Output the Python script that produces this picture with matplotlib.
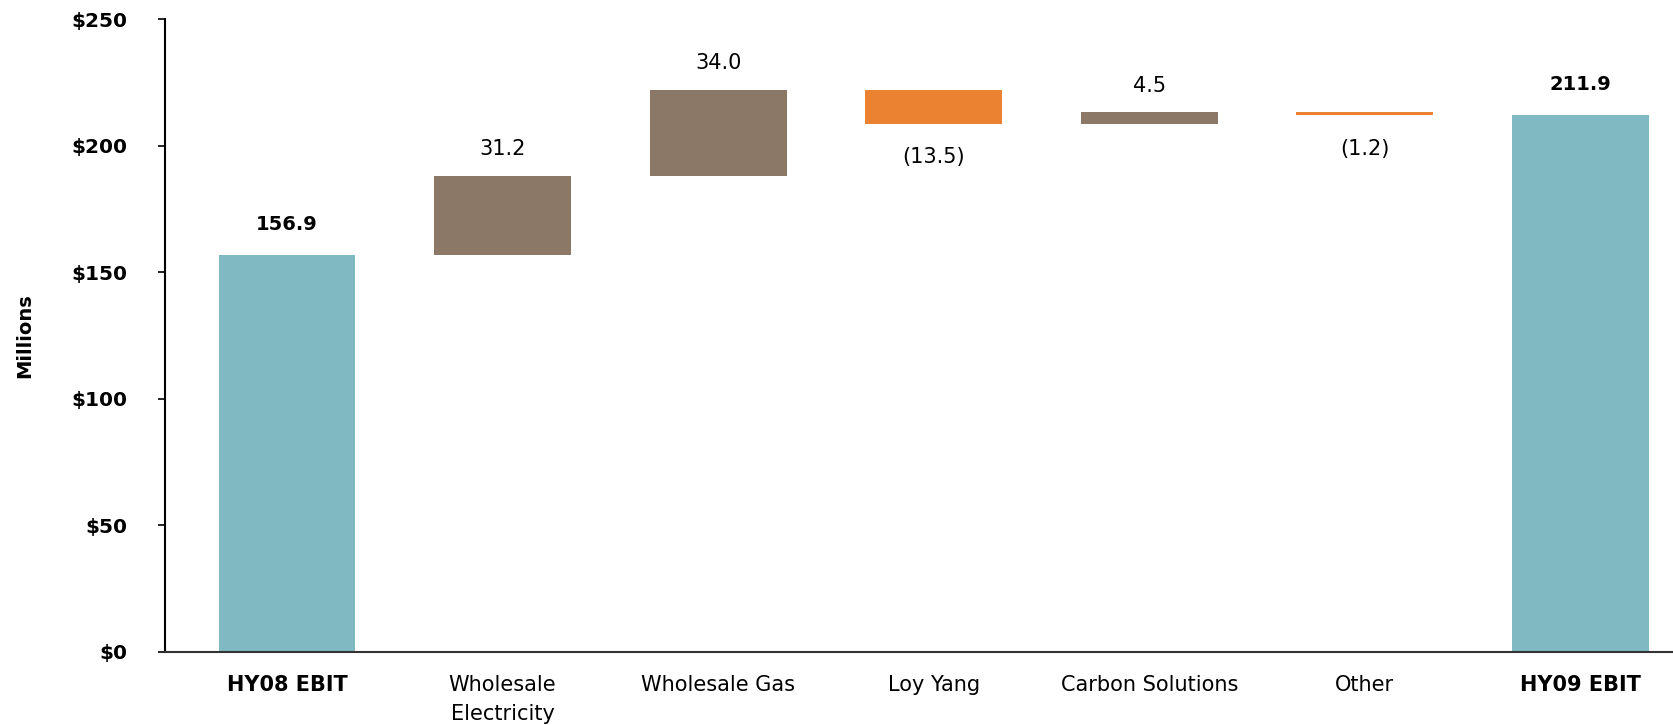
import matplotlib
matplotlib.use("Agg")
import matplotlib.pyplot as plt
import numpy as np

categories = ["HY08 EBIT", "Wholesale\nElectricity", "Wholesale Gas", "Loy Yang",
              "Carbon Solutions", "Other", "HY09 EBIT"]
changes = [156.9, 31.2, 34.0, -13.5, 4.5, -1.2, 211.9]
is_total = [True, False, False, False, False, False, True]
yticks = [0, 50, 100, 150, 200, 250]
ytick_labels = ["$0", "$50", "$100", "$150", "$200", "$250"]

c_total = "#80B9C1"
c_up = "#8B7867"
c_down = "#EB8231"

fig = plt.figure(figsize=(16.73, 7.25), dpi=100)
ax = fig.add_axes([165/1673, 1-652/725, 1-165/1673, (652-19)/725])

x = np.arange(len(categories))
running = 0.0
bottoms, heights, colors = [], [], []
for v, tot in zip(changes, is_total):
    if tot:
        bottoms.append(0); heights.append(v); colors.append(c_total)
        running = v
    else:
        if v >= 0:
            bottoms.append(running); heights.append(v); colors.append(c_up)
        else:
            bottoms.append(running + v); heights.append(-v); colors.append(c_down)
        running += v

ax.bar(x, heights, bottom=bottoms, width=0.635, color=colors, zorder=2)

for xi, v, b, h, tot in zip(x, changes, bottoms, heights, is_total):
    if tot:
        ax.annotate(f"{v:.1f}", (xi, b + h), xytext=(0, 22), textcoords="offset points",
                    ha="center", va="center", fontsize=14, fontweight="bold")
    elif v >= 0:
        ax.annotate(f"{v:.1f}", (xi, b + h), xytext=(0, 19), textcoords="offset points",
                    ha="center", va="center", fontsize=15)
    else:
        ax.annotate(f"({-v:.1f})", (xi, b), xytext=(0, -24), textcoords="offset points",
                    ha="center", va="center", fontsize=15)

ax.set_xlim(-0.566, 6.43)
ax.set_ylim(0, 250)
ax.set_yticks(yticks)
ax.set_yticklabels(ytick_labels, fontsize=14.5, fontweight="bold")
ax.set_xticks(x)
ax.set_xticklabels(categories, fontsize=15, linespacing=1.55)
for lbl, tot in zip(ax.get_xticklabels(), is_total):
    lbl.set_fontweight("bold" if tot else "normal")
    lbl.set_va("top")
ax.tick_params(axis="x", length=0, pad=16.5)
ax.tick_params(axis="y", length=5, width=1.2, pad=22, direction="out")
for s in ["top", "right"]:
    ax.spines[s].set_visible(False)
ax.spines["left"].set_linewidth(1.5)
ax.spines["bottom"].set_linewidth(1.5)
ax.spines["bottom"].set_color("#333333")
ax.set_ylabel("Millions", fontsize=14, fontweight="bold", labelpad=27)

fig.savefig("out.png", dpi=100)
